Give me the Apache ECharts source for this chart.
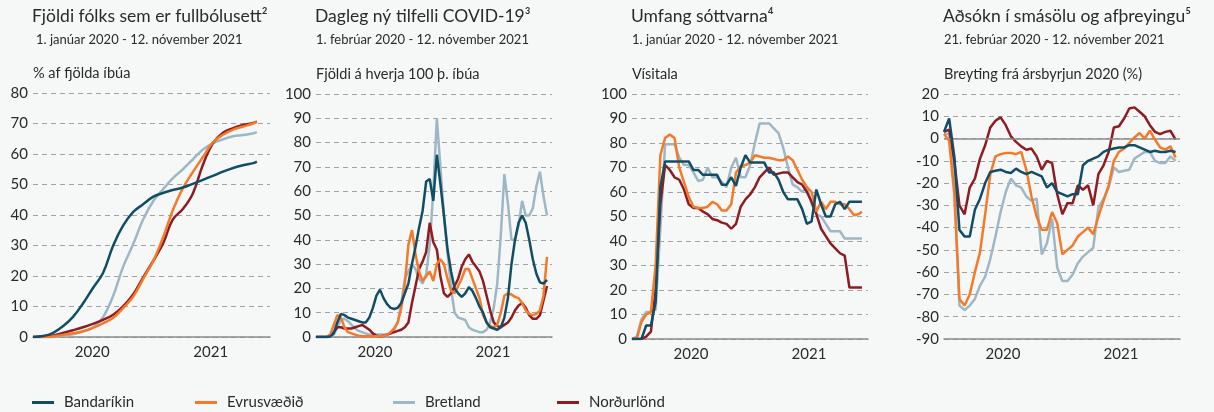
<!DOCTYPE html>
<html>
<head>
<meta charset="utf-8">
<script src="https://cdn.jsdelivr.net/npm/echarts@6/dist/echarts.min.js"></script>
<style>
  html, body { margin: 0; padding: 0; background: #f6f7f7; }
  #chart { width: 1214px; height: 412px; }
</style>
</head>
<body>
<div id="chart"></div>
<script>
// --- data ---
const years = ['2020', '2021'];
const names = ['Bandaríkin', 'Evrusvæðið', 'Bretland', 'Norðurlönd'];

const titles = ['Fjöldi fólks sem er fullbólusett²', 'Dagleg ný tilfelli COVID-19³', 'Umfang sóttvarna⁴', 'Aðsókn í smásölu og afþreyingu⁵'];
const subtitles = ['1. janúar 2020 - 12. nóvember 2021', '1. febrúar 2020 - 12. nóvember 2021', '1. janúar 2020 - 12. nóvember 2021', '21. febrúar 2020 - 12. nóvember 2021'];
const unitNames = ['% af fjölda íbúa', 'Fjöldi á hverja 100 þ. íbúa', 'Vísitala', 'Breyting frá ársbyrjun 2020 (%)'];

// fully vaccinated, % of population (monthly, last point 12 Nov 2021)
const vaxUS = [0, 0.3, 1.3, 3.5, 6.5, 11, 16, 21, 30, 36.5, 41, 43.5, 46, 47.3, 48.2, 49, 50.2, 51.5, 52.8, 54.2, 55.4, 56.3, 57, 57.5];
const vaxEA = [0, 0, 0.2, 0.7, 1.2, 1.9, 3, 4.5, 6.3, 9.5, 13.3, 19, 25, 33, 41.5, 48.8, 54, 59, 63.8, 66.3, 68, 69, 70, 70.5];
const vaxUK = [0, 0, 0.1, 0.4, 0.9, 1.8, 3, 6.5, 13.5, 23, 30.5, 38.5, 44.6, 48.6, 52, 55, 58.2, 61.5, 63.5, 64.8, 65.8, 66.2, 66.8, 67.2];
const vaxNordic = [0, 0, 0.4, 1.3, 2.2, 3.2, 4.3, 5.6, 7.3, 10, 14, 19.5, 25, 31, 38.5, 42, 47, 56.5, 63.5, 67, 68.5, 69.5, 70.2, 70.6];

// daily new cases per 100k (every 10 days from 1 Feb 2020)
const casesUS = [0, 0, 0, 0, 0.2, 1.5, 6, 9.5, 9, 8, 7.5, 7, 6.5, 6, 6, 8, 12, 17, 19.5, 16,
  13.5, 12, 11.5, 12, 14, 18, 22, 30, 37, 45, 52, 64, 65, 56, 75, 63, 50, 36, 27, 20,
  18, 16.5, 18, 20.5, 19, 16, 12.5, 10, 6, 4, 3.5, 3, 4, 8, 16, 30, 40, 47, 50, 47,
  40, 32, 26, 22.5, 22, 23.5];
const casesEA = [0, 0, 0, 0, 1, 5, 9, 8, 4, 2, 1.5, 1, 0.5, 0.3, 0.3, 0.3, 0.3, 0.3, 0.3, 0.5,
  1, 2, 3.5, 6, 12, 22, 38, 44, 34, 27, 23, 25, 27, 23, 30, 32, 30, 24, 19, 18,
  21, 24, 28, 28, 24, 20, 16, 9, 6, 4.5, 4, 5, 10, 17, 18, 17.5, 16.5, 16, 14, 11,
  9.5, 9, 9.5, 11, 17, 33];
const casesUK = [0, 0, 0, 0, 0, 1, 4, 7, 7.5, 6.5, 5, 3.5, 2.5, 2, 1.5, 1, 1, 1, 1, 1,
  1, 1.5, 3, 6, 14, 24, 27, 30, 28, 24, 22, 26, 38, 60, 90, 70, 50, 35, 20, 10,
  8, 7.5, 7, 4, 3, 2.5, 2, 2, 3, 6, 12, 22, 42, 67, 55, 40, 40, 46, 56, 50,
  50, 53, 62, 68, 58, 50];
const casesNordic = [0, 0, 0, 0, 0.5, 2, 4, 4, 3.5, 3.5, 3.5, 4, 4.5, 5, 4, 3, 1.5, 0.5, 0.3, 0.5,
  1, 1.5, 2, 2.5, 3, 4, 6, 14, 21, 28, 31, 35, 47, 39, 36, 25, 18, 16.5, 18, 21,
  24, 29, 32, 34, 31, 29, 27, 23, 17, 11, 6, 4.5, 4, 5, 6, 8, 11, 13, 14, 12,
  9, 7.5, 7.5, 9, 15, 21];

// stringency index (every 14 days from 1 Jan 2020, last point 12 Nov 2021)
const strictUS = [0, 0, 0, 5.5, 5.5, 15, 62, 72.5, 72.5, 72.5, 72.5, 72.5, 72.5, 69, 69, 67, 67, 67, 67, 63,
  63, 66, 62.5, 70, 75, 72, 72, 72, 72, 68, 68, 65, 60, 57, 57, 57, 53, 47, 48, 61,
  55, 50, 50, 55, 56, 53, 56, 56, 56, 56];
const strictEA = [0, 0, 7, 10, 11, 30, 75, 82, 83.5, 82, 70, 64, 58, 54, 53.5, 53.5, 54, 56, 55, 52.5,
  52.5, 55, 68, 70.5, 71, 72, 75, 74.5, 74, 74, 73.5, 73, 73, 74.5, 73, 69, 65, 62, 60, 52,
  56, 53, 56, 56, 55, 55, 53, 50.5, 51, 52];
const strictUK = [0, 1, 8, 11, 11, 12, 45, 79.5, 79.5, 79.5, 74, 71, 71, 68, 64.5, 65, 70, 66, 66, 64,
  62, 70, 74, 66, 66, 71, 80, 88, 88, 88, 86, 84, 78, 70, 63, 62, 60, 62, 55, 51,
  50, 47, 44, 44, 44, 41, 41, 41, 41, 41];
const strictNordic = [0, 0, 0, 1, 3, 20, 55, 71, 69, 66, 65, 61, 55, 53.5, 53.5, 52, 51, 49, 48.5, 47.5,
  47, 45, 47, 54, 57, 59, 62, 66, 68, 70, 67, 67.5, 68, 68, 66, 64, 63, 60, 56, 51,
  45, 42, 39, 37, 35, 34, 21, 21, 21, 21];

// retail & recreation mobility, % change (every 14 days from 21 Feb 2020)
const mobUS = [3, 9, -8, -41, -44, -44, -32, -27, -20, -15, -14.5, -14, -15, -15.5, -13.5, -15, -16, -15, -16, -17,
  -22, -20, -24, -25, -26, -25, -25, -12, -10, -9, -8, -6, -5, -4.5, -4, -4, -3, -3, -4, -5,
  -6, -5.5, -6, -6, -5.5, -6];
const mobEA = [2, -1, -25, -72, -75, -70, -60, -51, -34, -16, -8, -7, -6.5, -6.5, -7, -6, -14, -26, -35, -41,
  -41, -33, -38, -52, -50, -48, -44, -42, -40, -43, -35, -28, -21, -10, -6, -4.5, -2, 0.5, 2.5, 0,
  3.5, -0.5, -4, -5, -3.5, -8.5];
const mobUK = [2, 2, -20, -75, -77, -75, -72, -66, -62, -54, -44, -33, -24, -18, -21, -22, -26, -28, -27, -52,
  -47, -36, -58, -64, -64, -61, -56, -53, -51, -49, -31, -27, -22, -13, -15, -14.5, -14, -9, -7.5, -6,
  -6, -10, -11, -11, -8, -10];
const mobNordic = [3, 4, -10, -30, -34, -22, -18, -9, -3, 5, 8, 9.5, 6, 1, -1.5, -3.5, -5, -4.5, -8, -14,
  -10, -11, -25, -34, -29, -29, -21, -23, -21, -30, -16, -12, -6, 5, 5.5, 9, 13.5, 14, 12, 10,
  6, 3, 2, 3, 3.5, -0.5];

// --- dates ---
const stepDates = (y, m, d, step, n) =>
  Array.from({ length: n }, (_, i) => new Date(y, m, d + i * step).getTime());
const lastDay = new Date(2021, 10, 12).getTime();

const vaxDates = Array.from({ length: 23 }, (_, m) => new Date(2020, m, 1).getTime()).concat(lastDay);
const casesDates = stepDates(2020, 1, 1, 10, 66);
const strictDates = stepDates(2020, 0, 1, 14, 49).concat(lastDay);
const mobDates = stepDates(2020, 1, 21, 14, 46);

const colors = {
  'Bandaríkin': '#124d66',
  'Evrusvæðið': '#f47a29',
  'Bretland': '#9db7c6',
  'Norðurlönd': '#8e1c22'
};

const panels = [
  { left: 33, top: 93, width: 237, height: 244, xMin: '2020-01-01', xMax: '2021-12-22', yMin: 0, yMax: 80,
    dates: vaxDates, data: [vaxUS, vaxEA, vaxUK, vaxNordic], smooth: true },
  { left: 316, top: 94, width: 236, height: 243, xMin: '2020-02-01', xMax: '2021-11-26', yMin: 0, yMax: 100,
    dates: casesDates, data: [casesUS, casesEA, casesUK, casesNordic] },
  { left: 632, top: 94, width: 236, height: 245, xMin: '2020-01-01', xMax: '2021-11-30', yMin: 0, yMax: 100,
    dates: strictDates, data: [strictUS, strictEA, strictUK, strictNordic] },
  { left: 944, top: 94, width: 236, height: 245, xMin: '2020-02-21', xMax: '2021-11-24', yMin: -90, yMax: 20,
    dates: mobDates, data: [mobUS, mobEA, mobUK, mobNordic], zeroLine: true }
];

const font = 'Lato';
const ink = '#2a2a2a';
const grid = [], xAxis = [], yAxis = [], series = [], title = [];

panels.forEach((p, k) => {
  grid.push({ left: p.left, top: p.top, width: p.width, height: p.height, outerBoundsMode: 'none' });

  title.push({
    text: titles[k], left: p.left - 1, top: 7, padding: 0,
    textStyle: { fontFamily: font, fontSize: 17.5, fontWeight: 'normal', color: ink }
  });
  title.push({
    text: subtitles[k], left: p.left + (k === 0 ? 3 : 0), top: 33, padding: 0,
    textStyle: { fontFamily: font, fontSize: 13, fontWeight: 'normal', color: ink }
  });

  xAxis.push({ type: 'time', gridIndex: k, position: 'bottom', min: p.xMin, max: p.xMax, show: false });
  xAxis.push({
    type: 'category', gridIndex: k, position: 'bottom', data: years, boundaryGap: true,
    axisLine: { lineStyle: { color: '#8c8c8c', width: 1.5 } },
    axisTick: { length: 8, lineStyle: { color: '#8c8c8c', width: 1.5 } },
    axisLabel: { fontFamily: font, fontSize: 15, color: ink, margin: 8 }
  });

  yAxis.push({
    type: 'value', gridIndex: k, min: p.yMin, max: p.yMax, interval: 10,
    name: unitNames[k], nameLocation: 'end', nameGap: 12,
    nameTextStyle: { fontFamily: font, fontSize: 14.5, color: ink, align: 'left' },
    axisLine: { show: false }, axisTick: { show: false },
    axisLabel: { fontFamily: font, fontSize: 15, color: ink, margin: 5 },
    splitLine: { lineStyle: { type: [5, 4], color: '#a3a3a3', width: 1 } }
  });

  // draw order: Bretland, Norðurlönd, Evrusvæðið, Bandaríkin on top
  [2, 3, 1, 0].forEach((j, order) => {
    const s = {
      name: names[j], type: 'line', xAxisIndex: 2 * k, yAxisIndex: k,
      data: p.dates.map((d, i) => [d, p.data[j][i]]),
      showSymbol: false, smooth: p.smooth ? 0.4 : false,
      lineStyle: { width: 2.5, color: colors[names[j]] },
      itemStyle: { color: colors[names[j]] },
      z: 3 + order
    };
    if (p.zeroLine && order === 0) {
      s.markLine = {
        silent: true, symbol: ['none', 'none'], label: { show: false },
        lineStyle: { type: 'solid', color: '#8c8c8c', width: 1.5 },
        data: [{ yAxis: 0 }]
      };
    }
    series.push(s);
  });
});

const legendLeft = [32, 195, 393, 557];
const legend = names.map((n, i) => ({
  data: [n], left: legendLeft[i], top: 395, padding: 0, icon: 'rect', itemWidth: 22, itemHeight: 3,
  textStyle: { fontFamily: font, fontSize: 15, color: ink, padding: [0, 0, 0, 5] }
}));

const chart = echarts.init(document.getElementById('chart'));
chart.setOption({
  backgroundColor: '#f6f7f7',
  animation: false,
  title, legend, grid, xAxis, yAxis, series
});
</script>
</body>
</html>
